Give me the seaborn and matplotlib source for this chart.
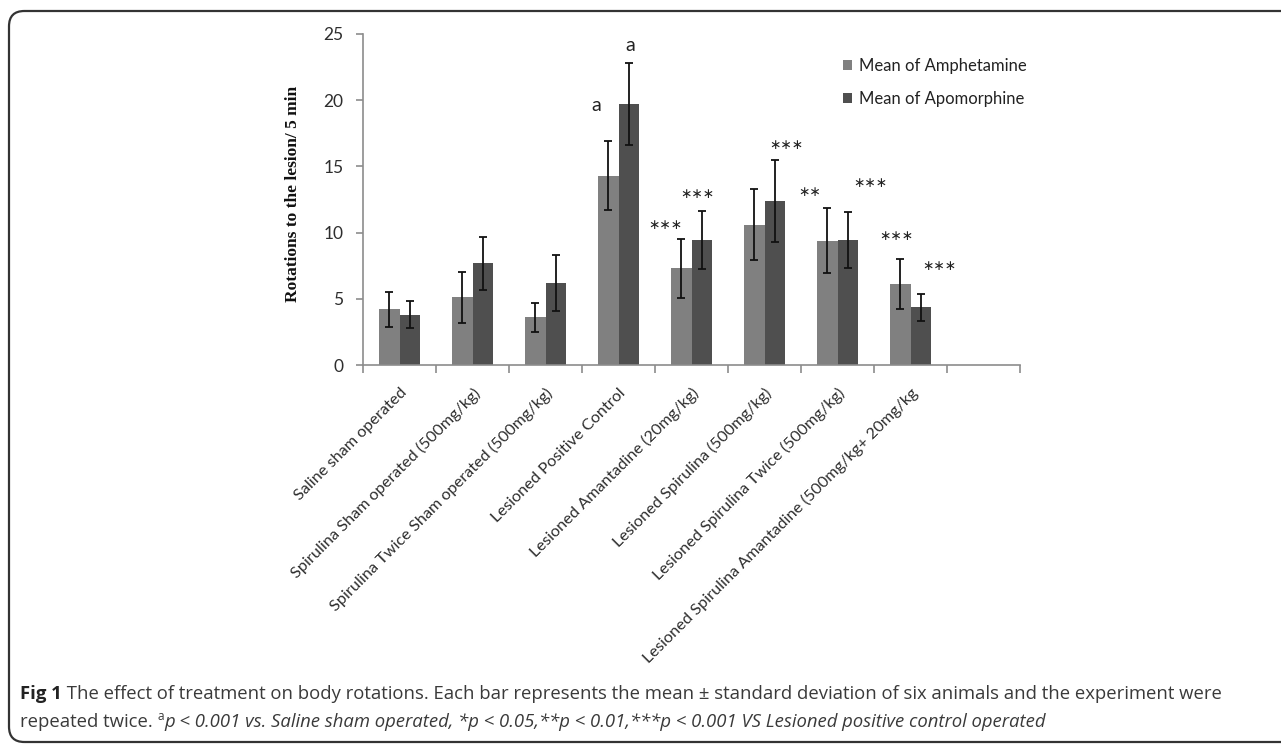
import matplotlib
matplotlib.use("Agg")
import matplotlib.pyplot as plt
from matplotlib.patches import FancyBboxPatch
from matplotlib.ticker import FixedLocator, NullFormatter
from matplotlib.transforms import ScaledTranslation
import numpy as np
import pandas as pd
import seaborn as sns

# ---- data -------------------------------------------------------------
groups = [
    "Saline sham operated",
    "Spirulina Sham operated (500mg/kg)",
    "Spirulina Twice Sham operated (500mg/kg)",
    "Lesioned Positive Control",
    "Lesioned Amantadine (20mg/kg)",
    "Lesioned Spirulina (500mg/kg)",
    "Lesioned Spirulina Twice (500mg/kg)",
    "Lesioned Spirulina Amantadine (500mg/kg+ 20mg/kg",
]
series = ["Mean of Amphetamine", "Mean of Apomorphine"]
amph_mean = [4.2, 5.1, 3.6, 14.3, 7.3, 10.6, 9.4, 6.1]
amph_sd = [1.35, 1.95, 1.1, 2.6, 2.25, 2.7, 2.45, 1.9]
apo_mean = [3.8, 7.7, 6.2, 19.7, 9.45, 12.4, 9.45, 4.35]
apo_sd = [1.0, 2.0, 2.1, 3.1, 2.2, 3.1, 2.1, 1.0]

# significance marks: (group index, label, x offset in category units, height)
marks_text = ["a", "a", "***", "***", "***", "**", "***", "***", "***"]
marks_group = [3, 3, 4, 4, 5, 6, 6, 7, 7]
marks_dx = [-0.30, 0.16, -0.36, 0.08, 0.30, -0.38, 0.45, -0.20, 0.40]
marks_y = [19.6, 24.1, 10.55, 12.9, 16.65, 13.05, 13.75, 9.75, 7.45]

caption_l1 = ("The effect of treatment on body rotations. Each bar represents the mean \u00b1 "
              "standard deviation of six animals and the experiment were")
caption_l2a = "repeated twice. "
caption_l2b = ("p < 0.001 vs. Saline sham operated, *p < 0.05,**p < 0.01,***p < 0.001 "
               "VS Lesioned positive control operated")

# ---- table for seaborn ------------------------------------------------
df = pd.DataFrame({
    "group": groups * 2,
    "series": [series[0]] * len(groups) + [series[1]] * len(groups),
    "value": amph_mean + apo_mean,
})

sns.set_theme(style="white")
plt.rcParams["font.family"] = ["Lato", "DejaVu Sans"]

W, H = 1281, 744
fig = plt.figure(figsize=(W / 100, H / 100), dpi=100)
fig.patch.set_facecolor("white")

# axes placement in pixels
x0, x1 = 363, 1020
y_top, y_bot = 34, 365
ax = fig.add_axes([x0 / W, 1 - y_bot / H, (x1 - x0) / W, (y_bot - y_top) / H])

palette = ["#808080", "#4f4f4f"]
sns.barplot(data=df, x="group", y="value", hue="series", order=groups,
            hue_order=series, palette=palette, width=0.56, errorbar=None,
            saturation=1, linewidth=0, ax=ax)

# error bars on each bar container
for cont, sd in zip(ax.containers, [amph_sd, apo_sd]):
    xs = [p.get_x() + p.get_width() / 2 for p in cont.patches]
    ys = [p.get_height() for p in cont.patches]
    ax.errorbar(xs, ys, yerr=sd, fmt="none", ecolor="#111111",
                elinewidth=1.3, capsize=2.8, capthick=1.3, zorder=5)

ax.set_xlim(-0.5, len(groups) + 0.5)
ax.set_ylim(0, 25)
ax.set_yticks([0, 5, 10, 15, 20, 25])
ax.set_xticks(range(len(groups)))
ax.set_xticklabels(groups, rotation=45, ha="right", rotation_mode="anchor",
                   fontsize=11.7, color="#2e2e2e")
shift = ScaledTranslation(-5 / 100, 0, fig.dpi_scale_trans)
for lab in ax.get_xticklabels():
    lab.set_transform(lab.get_transform() + shift)
ax.xaxis.set_minor_locator(FixedLocator(np.arange(-0.5, len(groups) + 1, 1.0)))
ax.xaxis.set_minor_formatter(NullFormatter())
ax.tick_params(axis="x", which="major", length=0, pad=15)
ax.tick_params(axis="x", which="minor", length=6, width=1.2, color="#8c8c8c",
               direction="out", bottom=True)
ax.tick_params(axis="y", which="major", length=5, width=1.2, color="#8c8c8c",
               direction="out", left=True, labelsize=12.5, labelcolor="#2e2e2e", pad=9)

for side in ["top", "right"]:
    ax.spines[side].set_visible(False)
for side in ["left", "bottom"]:
    ax.spines[side].set_color("#8c8c8c")
    ax.spines[side].set_linewidth(1.2)

ax.set_xlabel("")
ax.set_ylabel("Rotations to the lesion/ 5 min", family="Liberation Serif",
              fontweight="bold", fontsize=12.5, color="#111111")
ax.yaxis.set_label_coords((301 - x0) / (x1 - x0), (y_bot - 194) / (y_bot - y_top))

# significance labels
for t, g, dx, yv in zip(marks_text, marks_group, marks_dx, marks_y):
    if t == "a":
        ax.text(g + dx, yv, t, ha="center", va="center", fontsize=14, color="#222222")
    else:
        ax.text(g + dx, yv, "\u2217" * len(t), ha="center", va="center",
                fontsize=9.8, color="#222222", family="DejaVu Sans")

# legend
leg = ax.legend(loc="upper left",
                bbox_to_anchor=((836 - x0) / (x1 - x0), 1.0 - (51 - y_top) / (y_bot - y_top)),
                frameon=False, fontsize=12, handlelength=0.55, handleheight=0.55,
                handletextpad=0.45, labelspacing=1.05, borderaxespad=0)
for txt in leg.get_texts():
    txt.set_color("#222222")

# rounded frame round the figure panel
frame = FancyBboxPatch((9 / W, 2 / H), (W + 30) / W, (H - 13) / H,
                       boxstyle="round,pad=0,rounding_size=0.012",
                       transform=fig.transFigure, fill=False,
                       edgecolor="#333333", linewidth=1.6, mutation_aspect=W / H)
fig.patches.append(frame)

# caption built from styled runs
cap_font = ["Open Sans", "DejaVu Sans"]
cap_size = 13.3
cap_color = "#3a3a3a"
base = dict(family=cap_font, fontsize=cap_size, color=cap_color)
ital = dict(base, style="italic")

fig.canvas.draw()
r = fig.canvas.get_renderer()


def put(x, y, text, kw):
    t = fig.text(x / W, 1 - y / H, text, va="baseline", ha="left", **kw)
    return x + t.get_window_extent(renderer=r).width


x = put(20, 699, "Fig 1", dict(base, fontweight="bold", color="#222222"))
put(x, 699, " " + caption_l1, base)
x = put(20, 727, caption_l2a, base)
x = put(x, 720, "a", dict(base, fontsize=8.5))
put(x, 727, caption_l2b, ital)

fig.savefig("out.png", dpi=100, facecolor="white")
